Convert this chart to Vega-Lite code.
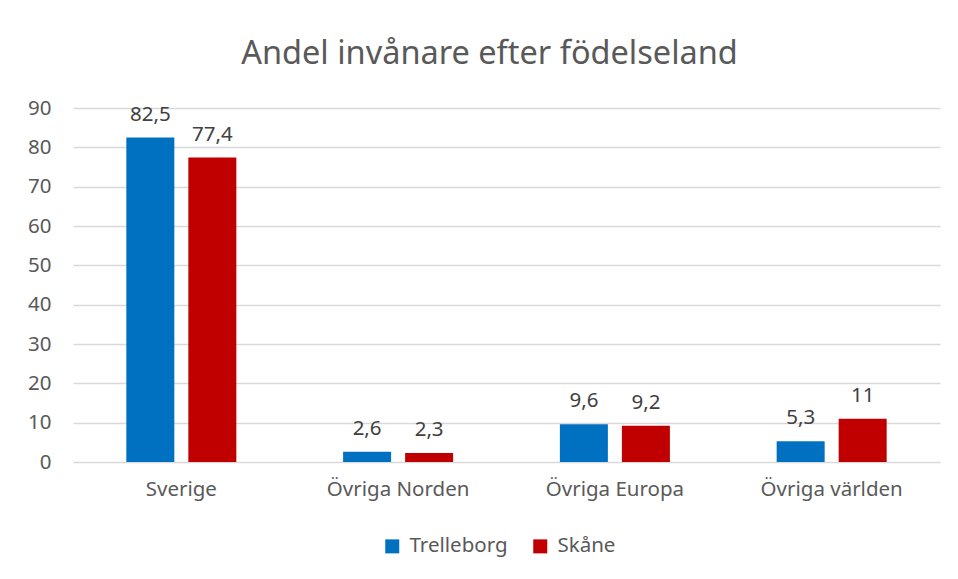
{
  "$schema": "https://vega.github.io/schema/vega-lite/v6.json",
  "width": 867,
  "height": 354,
  "autosize": {"type": "none"},
  "padding": {"left": 73, "top": 108, "right": 18, "bottom": 117},
  "background": "white",
  "title": {
    "text": "Andel invånare efter födelseland",
    "fontSize": 32.5,
    "font": "Noto Sans",
    "fontWeight": "normal",
    "color": "#595959",
    "anchor": "middle",
    "dx": -17,
    "offset": 28
  },
  "data": {
    "values": [
      {"kategori": "Sverige", "serie": "Trelleborg", "andel": 82.5, "etikett": "82,5"},
      {"kategori": "Sverige", "serie": "Skåne", "andel": 77.4, "etikett": "77,4"},
      {"kategori": "Övriga Norden", "serie": "Trelleborg", "andel": 2.6, "etikett": "2,6"},
      {"kategori": "Övriga Norden", "serie": "Skåne", "andel": 2.3, "etikett": "2,3"},
      {"kategori": "Övriga Europa", "serie": "Trelleborg", "andel": 9.6, "etikett": "9,6"},
      {"kategori": "Övriga Europa", "serie": "Skåne", "andel": 9.2, "etikett": "9,2"},
      {"kategori": "Övriga världen", "serie": "Trelleborg", "andel": 5.3, "etikett": "5,3"},
      {"kategori": "Övriga världen", "serie": "Skåne", "andel": 11, "etikett": "11"}
    ]
  },
  "encoding": {
    "x": {
      "field": "kategori",
      "type": "nominal",
      "sort": ["Sverige", "Övriga Norden", "Övriga Europa", "Övriga världen"],
      "scale": {"paddingInner": 0.4925, "paddingOuter": 0.246},
      "axis": {
        "title": null,
        "labelAngle": 0,
        "labelFontSize": 20.5,
        "labelFont": "Noto Sans",
        "labelColor": "#595959",
        "labelPadding": 17,
        "ticks": false,
        "domain": false
      }
    },
    "xOffset": {
      "field": "serie",
      "type": "nominal",
      "sort": ["Trelleborg", "Skåne"],
      "scale": {"paddingInner": 0.226, "paddingOuter": 0}
    },
    "y": {
      "field": "andel",
      "type": "quantitative",
      "scale": {"domain": [0, 90]},
      "axis": {
        "title": null,
        "values": [0, 10, 20, 30, 40, 50, 60, 70, 80, 90],
        "labelFontSize": 20.5,
        "labelFont": "Noto Sans",
        "labelColor": "#595959",
        "labelPadding": 22,
        "ticks": false,
        "domain": false,
        "gridColor": "#d9d9d9",
        "gridWidth": 1.3
      }
    }
  },
  "layer": [
    {
      "mark": {"type": "bar"},
      "encoding": {
        "color": {
          "field": "serie",
          "type": "nominal",
          "sort": ["Trelleborg", "Skåne"],
          "scale": {"domain": ["Trelleborg", "Skåne"], "range": ["#0070C0", "#C00000"]},
          "legend": {
            "title": null,
            "orient": "none",
            "direction": "horizontal",
            "legendX": 309,
            "legendY": 428,
            "symbolType": "square",
            "symbolSize": 196,
            "symbolStrokeWidth": 0,
            "labelFontSize": 20.5,
            "labelFont": "Noto Sans",
            "labelColor": "#595959",
            "labelOffset": 7,
            "columnPadding": 22
          }
        }
      }
    },
    {
      "mark": {"type": "text", "baseline": "alphabetic", "dy": -17, "fontSize": 20.5, "font": "Noto Sans", "color": "#404040"},
      "encoding": {"text": {"field": "etikett"}}
    }
  ],
  "config": {"view": {"stroke": null}}
}
